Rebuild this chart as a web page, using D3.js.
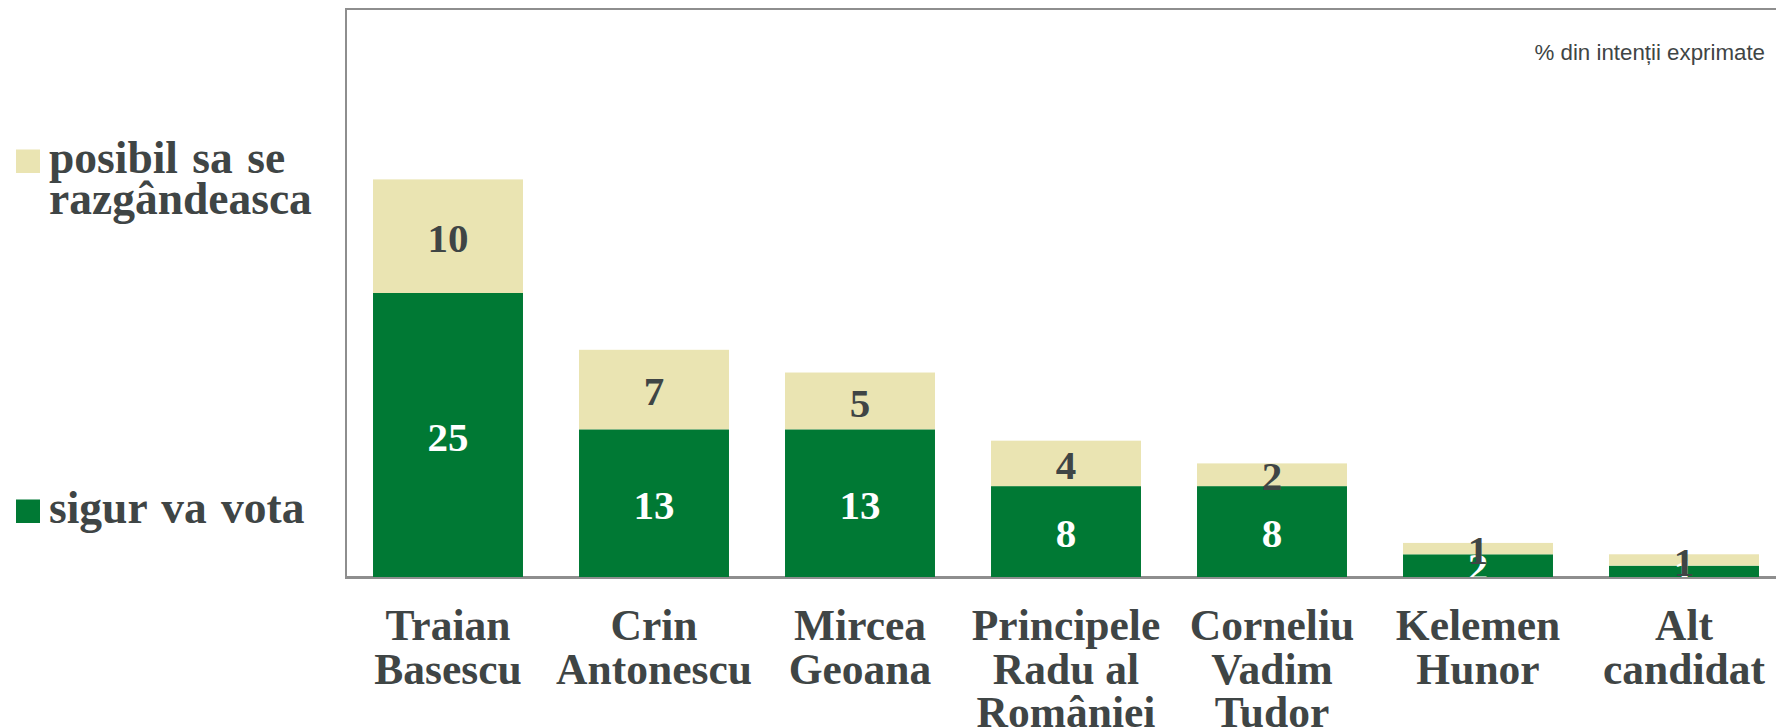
<!DOCTYPE html>
<html>
<head>
<meta charset="utf-8">
<script src="https://cdn.jsdelivr.net/npm/d3@7"></script>
<style>
  html, body { margin: 0; padding: 0; background: #ffffff; }
  svg { display: block; }
</style>
</head>
<body>
<svg id="chart" width="1776" height="728"></svg>
<script>
// ---- data ----
const categories = [
  ["Traian", "Basescu"],
  ["Crin", "Antonescu"],
  ["Mircea", "Geoana"],
  ["Principele", "Radu al", "României"],
  ["Corneliu", "Vadim", "Tudor"],
  ["Kelemen", "Hunor"],
  ["Alt", "candidat"]
];
const sigurVaVota = [25, 13, 13, 8, 8, 2, 1];
const posibilSaSeRazgandeasca = [10, 7, 5, 4, 2, 1, 1];
const seriesNames = ["sigur va vota", "posibil sa se razgândeasca"];
const legendLines = [["sigur va vota"], ["posibil sa se", "razgândeasca"]];
const yDomain = [0, 50];
const noteText = "% din intenții exprimate";

// ---- styling ----
const colors = ["#007934", "#EAE4B2"];
const labelColors = ["#ffffff", "#3F4545"];
const textColor = "#3F4545";
const serif = "'Liberation Serif', 'Times New Roman', serif";

const svg = d3.select("#chart");
const plot = { left: 345, right: 1787, top: 9, bottom: 577 };

const keys = categories.map((c, i) => i);
const x = d3.scaleBand()
  .domain(keys)
  .range([plot.left, plot.right])
  .paddingInner(0.272)
  .paddingOuter(0.136);
const y = d3.scaleLinear().domain(yDomain).range([plot.bottom, plot.top]);

const table = keys.map(i => ({ i, s0: sigurVaVota[i], s1: posibilSaSeRazgandeasca[i] }));
const stack = d3.stack().keys(["s0", "s1"]);
const layers = stack(table);

// frame
svg.append("rect")
  .attr("x", plot.left + 1).attr("y", plot.top)
  .attr("width", plot.right - plot.left).attr("height", plot.bottom - plot.top)
  .attr("fill", "none").attr("stroke", "#8E8E8E").attr("stroke-width", 2);

// bars
const g = svg.append("g");
layers.forEach((layer, li) => {
  g.selectAll(null).data(layer).enter().append("rect")
    .attr("x", d => x(d.data.i))
    .attr("width", x.bandwidth())
    .attr("y", d => y(d[1]))
    .attr("height", d => y(d[0]) - y(d[1]))
    .attr("fill", colors[li]);
});

// axis line (bottom)
svg.append("line")
  .attr("x1", plot.left).attr("x2", 1776)
  .attr("y1", plot.bottom + 1).attr("y2", plot.bottom + 1)
  .attr("stroke", "#8E8E8E").attr("stroke-width", 2);

// value labels
layers.forEach((layer, li) => {
  g.selectAll(null).data(layer).enter().append("text")
    .attr("x", d => x(d.data.i) + x.bandwidth() / 2)
    .attr("y", d => (y(d[0]) + y(d[1])) / 2)
    .attr("dy", "0.38em")
    .attr("text-anchor", "middle")
    .attr("font-family", serif)
    .attr("font-weight", "bold")
    .attr("font-size", 41)
    .attr("fill", labelColors[li])
    .text(d => d[1] - d[0]);
});

// category labels
const xAxis = svg.append("g");
categories.forEach((lines, i) => {
  const t = xAxis.append("text")
    .attr("x", x(i) + x.bandwidth() / 2)
    .attr("y", 640)
    .attr("text-anchor", "middle")
    .attr("font-family", serif)
    .attr("font-weight", "bold")
    .attr("font-size", 43.5)
    .attr("fill", textColor);
  lines.forEach((ln, k) => {
    t.append("tspan")
      .attr("x", x(i) + x.bandwidth() / 2)
      .attr("dy", k === 0 ? 0 : 43.5)
      .text(ln);
  });
});

// legend
const legendItems = [
  { si: 1, swatchY: 149.5, baseline: 173 },
  { si: 0, swatchY: 499.5, baseline: 523 }
];
legendItems.forEach(item => {
  svg.append("rect")
    .attr("x", 16).attr("y", item.swatchY)
    .attr("width", 24).attr("height", 23.5)
    .attr("fill", colors[item.si]);
  const t = svg.append("text")
    .attr("x", 49).attr("y", item.baseline)
    .attr("font-family", serif)
    .attr("font-weight", "bold")
    .attr("font-size", 45.5)
    .attr("word-spacing", 3)
    .attr("fill", textColor);
  legendLines[item.si].forEach((ln, k) => {
    t.append("tspan").attr("x", 49).attr("dy", k === 0 ? 0 : 40.5).text(ln);
  });
});

// note
svg.append("text")
  .attr("x", 1765).attr("y", 60)
  .attr("text-anchor", "end")
  .attr("font-family", "'Liberation Sans', Arial, sans-serif")
  .attr("font-size", 22.3)
  .attr("fill", "#404545")
  .text(noteText);
</script>
</body>
</html>
